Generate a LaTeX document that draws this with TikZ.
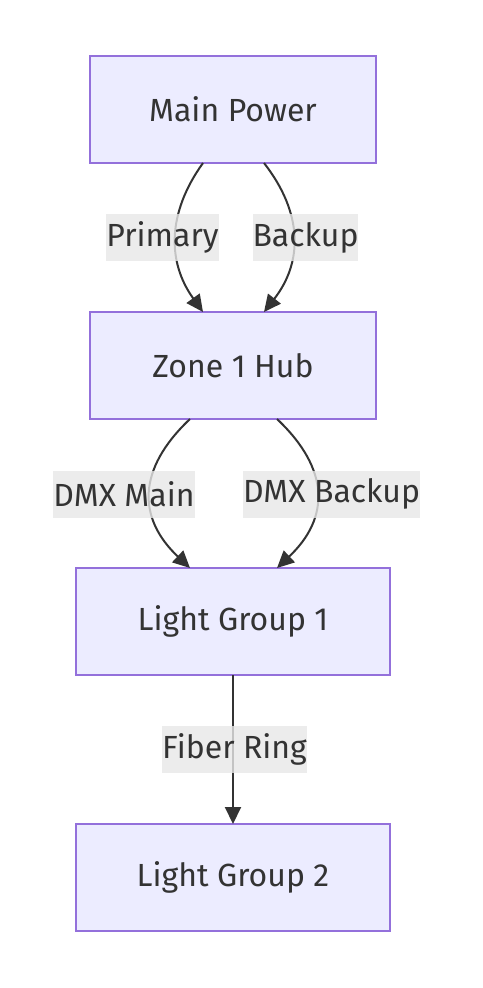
\documentclass[tikz,border=0pt]{standalone}
\usepackage{fontspec}
\setmainfont{Fira Sans}
\usepackage{tikz}
\usetikzlibrary{arrows.meta, positioning}
\definecolor{nodefill}{HTML}{ECECFF}
\definecolor{nodeline}{HTML}{9370DB}
\definecolor{inkgray}{HTML}{333333}
\definecolor{labelgray}{HTML}{E8E8E8}
\tikzset{
  hubnode/.style={
    rectangle, minimum width=#1, minimum height=107pt,
    text centered, font=\fontsize{32}{38}\selectfont,
    draw=nodeline, fill=nodefill, text=inkgray,
    line width=1.6pt, outer sep=0pt
  },
  hubnode/.default=286pt,
  linkarrow/.style={-{Triangle[length=17pt,width=16pt]}, line width=2pt, color=inkgray},
  linklabel/.style={
    rectangle, minimum height=47pt, inner xsep=0pt,
    font=\fontsize{32}{38}\selectfont, text=inkgray,
    fill=labelgray, fill opacity=0.8, text opacity=1
  },
}
\begin{document}
\begin{tikzpicture}[x=1pt, y=1pt, node distance=149pt]
          \useasboundingbox[fill=white] (0,0) rectangle (482,-988);
          \node[hubnode](mp) at (233,-109.5){Main Power};
          \node[hubnode,below=of mp](zh){Zone 1 Hub};
          \node[hubnode=314pt,below=of zh](lg1){Light Group 1};
          \node[hubnode=314pt,below=of lg1](lg2){Light Group 2};
          % power feeds
          \draw[linkarrow]([xshift=-30pt]mp.south) .. controls +(-36,-50) and +(-36,50) .. ([xshift=-30pt]zh.north);
          \draw[linkarrow]([xshift=31pt]mp.south) .. controls +(39,-50) and +(39,50) .. ([xshift=31pt]zh.north);
          % dmx lines
          \draw[linkarrow]([xshift=-43pt]zh.south) .. controls +(-53,-50) and +(-53,50) .. ([xshift=-43pt]lg1.north);
          \draw[linkarrow]([xshift=44pt]zh.south) .. controls +(53,-50) and +(53,50) .. ([xshift=44pt]lg1.north);
          \draw[linkarrow](lg1.south)--(lg2.north);
          % labels
          \node[linklabel](lprim) at (162.5,-237.5){Primary};
          \node[linklabel](lback) at (305.5,-237.5){Backup};
          \node[linklabel](ldmxm) at (124,-494){DMX Main};
          \node[linklabel](ldmxb) at (331.5,-494){DMX Backup};
          \node[linklabel](lfib) at (234.5,-749.5){Fiber Ring};
        \end{tikzpicture}
\end{document}
